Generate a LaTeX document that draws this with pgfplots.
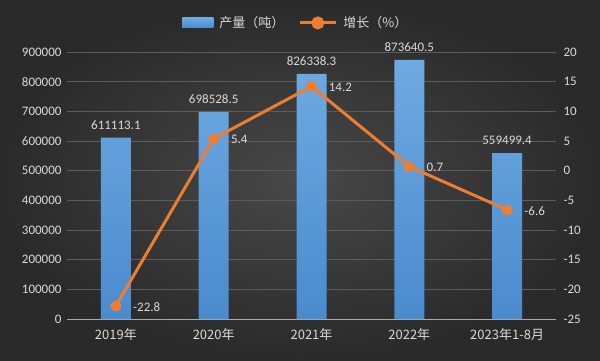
\documentclass[border=0pt]{standalone}
\usepackage{pgfplots}
\pgfplotsset{compat=1.18}
\usepackage{fontspec}
\setmainfont{Carlito}
\newfontfamily\cjk{Noto Sans CJK SC}
\definecolor{txt}{HTML}{D9D9D9}
\definecolor{barblue}{HTML}{5B9BD5}
\definecolor{barlight}{HTML}{6FAAE0}
\definecolor{bardark}{HTML}{4A8BCF}
\definecolor{lineor}{HTML}{ED7D31}
\definecolor{gridc}{HTML}{5C5C5C}
\begin{document}
\begin{tikzpicture}[x=1pt,y=1pt]
\shade[inner color={rgb,255:red,72;green,72;blue,72},outer color={rgb,255:red,42;green,42;blue,42}] (0,0) rectangle (600,360);
\useasboundingbox (0,0) rectangle (600,360);
\begin{axis}[
  at={(67pt,41pt)}, anchor=south west,
  scale only axis, width=489pt, height=267pt,
  xmin=-0.5, xmax=4.5, ymin=0, ymax=900000,
  axis y line*=left, axis x line*=bottom,
  y axis line style={draw=none},
  x axis line style={draw={rgb,255:red,170;green,170;blue,170}, line width=1pt},
  xtick={0,1,2,3,4},
  xticklabels={{\cjk 2019年},{\cjk 2020年},{\cjk 2021年},{\cjk 2022年},{\cjk 2023年1-8月}},
  ytick={0,100000,...,900000},
  major tick length=0pt,
  ymajorgrids, grid style={draw=gridc, line width=0.8pt},
  tick label style={font=\fontsize{13}{15}\selectfont, text=txt},
  /pgf/number format/assume math mode=true,
  scaled y ticks=false,
  yticklabel style={/pgf/number format/fixed, /pgf/number format/1000 sep={}, xshift=-2pt},
  xticklabel style={yshift=-6pt},
  clip=false,
]
\addplot[ybar, bar width=30pt, draw=none, top color=barlight, bottom color=bardark,
  nodes near coords={\pgfplotspointmeta}, point meta=explicit symbolic,
  every node near coord/.append style={font=\fontsize{13}{15}\selectfont, text=txt, yshift=5pt}]
  table[meta=label] {
x y label
0 611113.1 611113.1
1 698528.5 698528.5
2 826338.3 826338.3
3 873640.5 873640.5
4 559499.4 559499.4
};
\end{axis}
\begin{axis}[
  at={(67pt,41pt)}, anchor=south west,
  scale only axis, width=489pt, height=267pt,
  xmin=-0.5, xmax=4.5, ymin=-25, ymax=20,
  axis y line*=right, axis x line=none,
  y axis line style={draw=none},
  ytick={-25,-20,...,20},
  major tick length=0pt,
  tick label style={font=\fontsize{13}{15}\selectfont, text=txt},
  /pgf/number format/assume math mode=true,
  yticklabel style={xshift=4pt},
  clip=false,
  legend columns=2,
  legend style={at={(0.468,1.109)}, anchor=center, draw=none, fill=none, text=txt,
    font=\cjk\fontsize{13}{15}\selectfont,
    /tikz/every even column/.append style={column sep=12pt},
    /tikz/every odd column/.append style={column sep=4pt}},
  legend cell align=left,
]
\addlegendimage{area legend, draw=none, fill=barblue, legend image code/.code={\fill[top color=barlight,bottom color=bardark] (0pt,-5pt) rectangle (31pt,5pt);}}
\addlegendentry{产量（吨）}
\addplot[color=lineor, line width=3pt, mark=*, mark size=5pt, mark options={fill=lineor, draw=lineor, line width=0pt},
  nodes near coords={\pgfplotspointmeta}, point meta=explicit symbolic,
  every node near coord/.append style={font=\fontsize{13}{15}\selectfont, text=txt, anchor=west, xshift=14pt, yshift=-1pt},
  legend image code/.code={\draw[lineor, line width=3pt] (0pt,0pt) -- (36pt,0pt); \fill[lineor] (18pt,0pt) circle (5pt);}]
  table[meta=label] {
x y label
0 -22.8 -22.8
1 5.4 5.4
2 14.2 14.2
3 0.7 0.7
4 -6.6 -6.6
};
\addlegendentry{增长（\%）}
\end{axis}
\end{tikzpicture}
\end{document}
